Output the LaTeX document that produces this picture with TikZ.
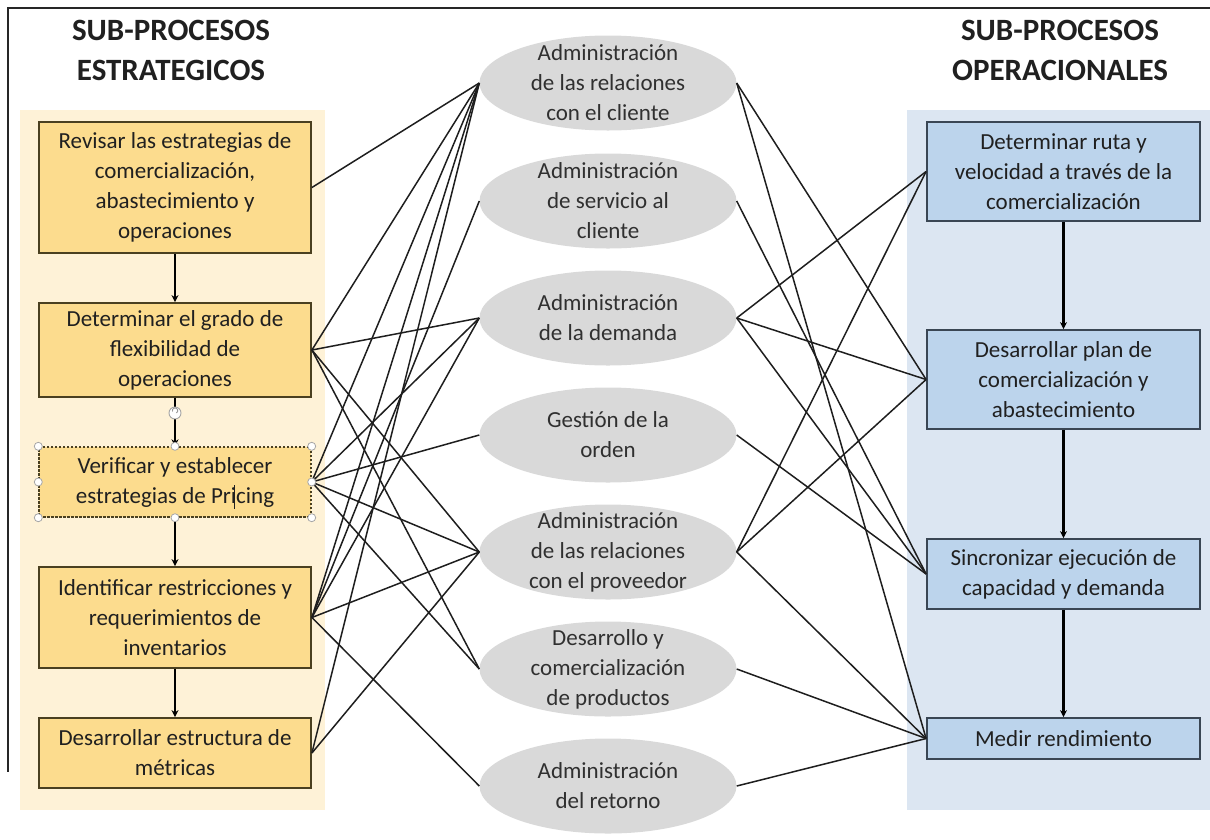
\documentclass[tikz,border=0pt]{standalone}
\usepackage{fontspec}
\setmainfont{Carlito}
\usetikzlibrary{arrows.meta,shapes.geometric}

\definecolor{panelY}{HTML}{FEF2D7}
\definecolor{panelB}{HTML}{DCE6F2}
\definecolor{fillY}{HTML}{FCDC8E}
\definecolor{fillB}{HTML}{BCD4EC}
\definecolor{edgeY}{HTML}{4A4020}
\definecolor{edgeB}{HTML}{3A4654}
\definecolor{ellfill}{HTML}{D9D9D9}
\definecolor{txt}{HTML}{202020}
\definecolor{elltxt}{HTML}{303030}
\definecolor{linkc}{HTML}{1E1E1E}

\begin{document}
\begin{tikzpicture}[x=1pt,y=-1pt,
  bodyfont/.style={font=\fontsize{23}{30}\selectfont},
  titlefont/.style={font=\fontsize{31}{40}\selectfont\bfseries},
  sbox/.style={draw=edgeY, line width=1.8pt, fill=fillY, minimum width=272pt,
    inner sep=0pt, align=center, text=txt, bodyfont},
  obox/.style={draw=edgeB, line width=1.8pt, fill=fillB, minimum width=273pt,
    inner sep=0pt, align=center, text=txt, bodyfont},
  proc/.style={ellipse, fill=ellfill, minimum width=257pt, minimum height=95pt, inner sep=0pt},
  proctext/.style={align=center, text=elltxt, bodyfont, inner sep=0pt},
  title/.style={align=center, text=txt, titlefont},
  link/.style={draw=linkc, line width=1.5pt},
  flow/.style={draw=black, line width=2.4pt, -{Stealth[length=7pt,width=7pt]}},
  handle/.style={circle, draw=gray!70, fill=white, line width=0.8pt, minimum size=8pt, inner sep=0pt}
]
\useasboundingbox (0,0) rectangle (1210,839);

% outer frame (top and left edges)
\draw[line width=2.2pt, black!85] (1210,8) -- (8,8) -- (8,772);

% background panels
\fill[panelY] (20,110) rectangle (325,810);
\fill[panelB] (907,110) rectangle (1210,810);

% headings
\node[title] (tl) at (171,50) {SUB-PROCESOS\\ESTRATEGICOS};
\node[title] (tr) at (1060,50) {SUB-PROCESOS\\OPERACIONALES};

% strategic sub-processes
\node[sbox, minimum height=131pt] (B1) at (175,187.5) {Revisar las estrategias de\\comercialización,\\abastecimiento y\\operaciones};
\node[sbox, minimum height=94pt] (B2) at (175,350) {Determinar el grado de\\flexibilidad de\\operaciones};
\node[sbox, minimum height=70pt, dash pattern=on 2.5pt off 1.5pt, line width=1.4pt] (B3) at (175,482) {Verificar y establecer\\estrategias de Pr\smash{\rlap{\hspace{0.12em}\rule[-0.25em]{0.9pt}{1.05em}}}icing};
\node[sbox, minimum height=101pt] (B4) at (175,617.5) {Identificar restricciones y\\requerimientos de\\inventarios};
\node[sbox, minimum height=70pt] (B5) at (175,753) {Desarrollar estructura de\\métricas};

% key processes
\foreach \n/\yy in {1/83,2/201,3/318,4/435,5/552,6/669,7/786}
  \node[proc] (E\n) at (608,\yy) {};
\node[proctext] (E1t) at (E1) {Administración\\de las relaciones\\con el cliente};
\node[proctext] (E2t) at (E2) {Administración\\de servicio al\\cliente};
\node[proctext] (E3t) at (E3) {Administración\\de la demanda};
\node[proctext] (E4t) at (E4) {Gestión de la\\orden};
\node[proctext] (E5t) at (E5) {Administración\\de las relaciones\\con el proveedor};
\node[proctext] (E6t) at (E6) {Desarrollo y\\comercialización\\de productos};
\node[proctext] (E7t) at (E7) {Administración\\del retorno};

% operational sub-processes
\node[obox, minimum height=99pt] (R1) at (1063.5,171.5) {Determinar ruta y\\velocidad a través de la\\comercialización};
\node[obox, minimum height=99pt] (R2) at (1063.5,379.5) {Desarrollar plan de\\comercialización y\\abastecimiento};
\node[obox, minimum height=70pt] (R3) at (1063.5,574) {Sincronizar ejecución de\\capacidad y demanda};
\node[obox, minimum height=41pt] (R4) at (1063.5,738.5) {Medir rendimiento};

% sequence arrows
\draw[flow] (B1.south) -- (B2.north);
\draw[flow] (B2.south) -- (B3.north);
\draw[flow] (B3.south) -- (B4.north);
\draw[flow] (B4.south) -- (B5.north);
\draw[flow] (R1.south) -- (R2.north);
\draw[flow] (R2.south) -- (R3.north);
\draw[flow] (R3.south) -- (R4.north);

% links: strategic -> key processes
\foreach \b/\e in {B1/E1,
                   B2/E1,B2/E3,B2/E5,B2/E6,
                   B3/E1,B3/E3,B3/E4,B3/E5,B3/E6,
                   B4/E1,B4/E2,B4/E3,B4/E5,B4/E7,
                   B5/E1,B5/E5}
  \draw[link] (\b.east) -- (\e.west);

% links: key processes -> operational
\foreach \e/\r in {E1/R2,E1/R4,
                   E2/R3,
                   E3/R1,E3/R2,E3/R3,
                   E4/R3,
                   E5/R1,E5/R2,E5/R4,
                   E6/R4,
                   E7/R4}
  \draw[link] (\e.east) -- (\r.west);

% selection handles on the edited box
\foreach \a in {north west,north,north east,west,east,south west,south,south east}
  \node[handle] at (B3.\a) {};
\node[circle, draw=gray!70, fill=white, line width=0.9pt, minimum size=12pt, inner sep=0pt] (rot) at (175,413) {};
\draw[gray!80, line width=0.9pt] (rot.center) ++(-2.5,-1.5) arc[start angle=200, end angle=-60, radius=2.7pt];
\end{tikzpicture}
\end{document}
